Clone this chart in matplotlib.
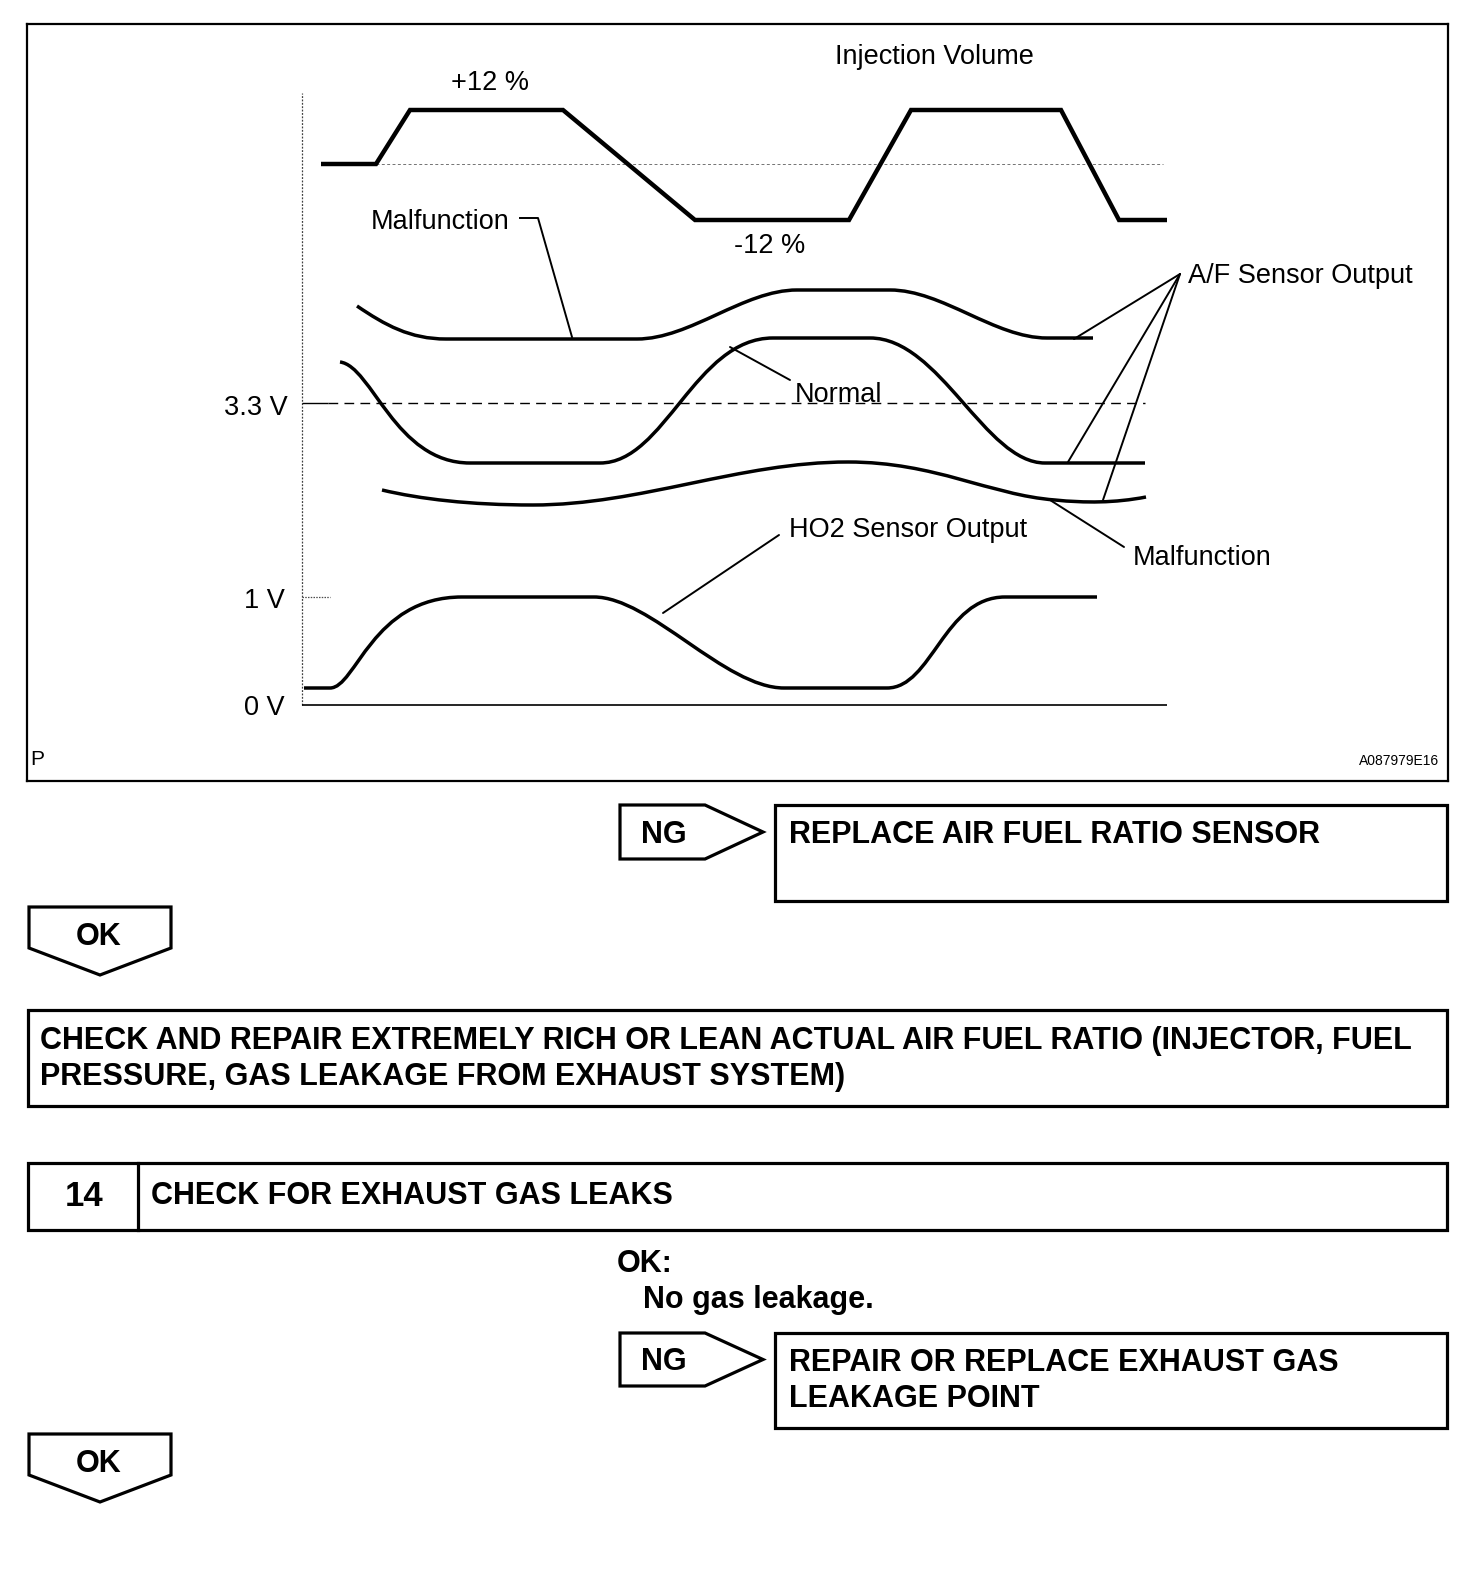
import numpy as np
import matplotlib.pyplot as plt
from matplotlib.path import Path
from matplotlib.patches import PathPatch, Polygon, Rectangle

plt.rcParams['font.family'] = ['Liberation Sans', 'DejaVu Sans']

# --- waveform data: time (from the axis) and level (above 0 V), picture units ---
inj_t = [19, 74, 108, 261, 393, 547, 609, 759, 817, 865]
inj_v = [541, 541, 595, 595, 485, 485, 595, 595, 485, 485]
inj_mid = 541

# A/F sensor, malfunction (upper), normal, malfunction (lower); HO2 sensor
# points are bezier vertices, codes: M move, L line, C cubic control/end
af_mal_up_t = [55, 83, 108, 144, 335, 388, 442, 495, 588, 640, 693, 745, 791]
af_mal_up_v = [399, 380, 366, 366, 366, 366, 415, 415, 415, 415, 367, 367, 367]
af_mal_up_c = "MCCCLCCCLCCCL"

af_norm_t = [38, 70, 93, 168, 298, 363, 393, 471, 568, 638, 683, 743, 843]
af_norm_v = [343, 339, 242, 242, 242, 242, 367, 367, 367, 367, 242, 242, 242]
af_norm_c = "MCCCLCCCLCCCL"

af_mal_lo_t = [80, 118, 168, 231, 338, 438, 546, 633, 688, 753, 783, 813, 844]
af_mal_lo_v = [215, 206, 200, 200, 200, 243, 243, 243, 210, 205, 202, 202, 208]
af_mal_lo_c = "MCCCCCCCCCCCC"

ho2_t = [2, 28, 54, 70, 160, 292, 348, 423, 482, 585, 630, 642, 703, 795]
ho2_v = [17, 17, 17, 108, 108, 108, 108, 17, 17, 17, 17, 108, 108, 108]
ho2_c = "MLCCCLCCCLCCCL"

tick_levels = [302, 108, 0]
tick_labels = ['3.3 V', '1 V', '0 V']

ng_texts = [["REPLACE AIR FUEL RATIO SENSOR"],
            ["REPAIR OR REPLACE EXHAUST GAS", "LEAKAGE POINT"]]
step_no = "14"
step_title = "CHECK FOR EXHAUST GAS LEAKS"
check_text = ["CHECK AND REPAIR EXTREMELY RICH OR LEAN ACTUAL AIR FUEL RATIO (INJECTOR, FUEL",
              "PRESSURE, GAS LEAKAGE FROM EXHAUST SYSTEM)"]
ok_spec = ["OK:", "No gas leakage."]

CODE = {'M': Path.MOVETO, 'L': Path.LINETO, 'C': Path.CURVE4}


def curve(ax, t, v, codes, lw=2.5):
    path = Path(np.column_stack([t, v]), [CODE[c] for c in codes])
    ax.add_patch(PathPatch(path, fill=False, lw=lw, ec='black', capstyle='butt'))


def leader(ax, start, end):
    ax.annotate('', xy=end, xytext=start, annotation_clip=False,
                arrowprops=dict(arrowstyle='-', lw=1.4, color='black',
                                shrinkA=0, shrinkB=0))


W, H = 1472, 1580
fig = plt.figure(figsize=(W / 100, H / 100), dpi=100)

# ---------------- flow chart part (pixel coordinates) ----------------
fl = fig.add_axes([0, 0, 1, 1])
fl.set_xlim(0, W)
fl.set_ylim(H, 0)
fl.axis('off')

BOLD = dict(fontsize=22, fontweight='bold', color='black', va='baseline')
BLW = 2.3
LINE = 36  # line pitch of the box texts


def lines(x, y, rows):
    for i, row in enumerate(rows):
        fl.text(x, y + i * LINE, row, ha='left', **BOLD)


def ng_arrow(top, bottom):
    mid = (top + bottom) / 2
    fl.add_patch(Polygon([(620, top), (705, top), (763, mid), (705, bottom), (620, bottom)],
                         closed=True, fill=False, lw=BLW, joinstyle='miter'))
    fl.text(664, mid + 11, "NG", ha='center', **BOLD)


def ok_arrow(top):
    fl.add_patch(Polygon([(29, top), (171, top), (171, top + 41), (100, top + 68), (29, top + 41)],
                         closed=True, fill=False, lw=BLW, joinstyle='miter'))
    fl.text(99, top + 38, "OK", ha='center', **BOLD)


ng_arrow(805, 859)
fl.add_patch(Rectangle((775, 805), 672, 96, fill=False, lw=BLW))
lines(789, 843, ng_texts[0])

ok_arrow(907)

fl.add_patch(Rectangle((28, 1010), 1419, 96, fill=False, lw=BLW))
lines(40, 1049, check_text)

fl.add_patch(Rectangle((28, 1163), 1419, 67, fill=False, lw=BLW))
fl.plot([138, 138], [1163, 1230], color='black', lw=BLW)
fl.text(84, 1206, step_no, ha='center', fontsize=25, fontweight='bold', va='baseline')
fl.text(151, 1204, step_title, ha='left', **BOLD)

fl.text(617, 1272, ok_spec[0], ha='left', **BOLD)
fl.text(643, 1308, ok_spec[1], ha='left', **BOLD)

ng_arrow(1333, 1386)
fl.add_patch(Rectangle((775, 1333), 672, 95, fill=False, lw=BLW))
lines(789, 1371, ng_texts[1])

ok_arrow(1434)

# ---------------- waveform chart ----------------
box_l, box_t, box_r, box_b = 27, 24, 1448, 781
x0, y0 = 302, 705
ax = fig.add_axes([box_l / W, 1 - box_b / H, (box_r - box_l) / W, (box_b - box_t) / H])
ax.set_xlim(box_l - x0, box_r - x0)
ax.set_ylim(y0 - box_b, y0 - box_t)
ax.set_xticks([])
ax.set_yticks([])
for s in ax.spines.values():
    s.set_linewidth(1.6)

# axis lines and reference levels
ax.vlines(0, 0, 612, color='0.25', lw=0.9, linestyles=(0, (1.5, 1.2)))
ax.hlines(0, 0, 865, color='black', lw=1.2)
ax.hlines(tick_levels[0], 0, 26, color='black', lw=1.0)
ax.hlines(tick_levels[0], 26, 843, color='black', lw=1.0, linestyles=(0, (7, 4.5)))
ax.hlines(tick_levels[1], 0, 28, color='0.3', lw=0.9, linestyles=(0, (1.2, 1)))
ax.hlines(inj_mid, 74, 861, color='0.45', lw=0.7, linestyles=(0, (3, 2.5)))

tick_x = [-14, -17, -17]
tick_base = [-12, -11, -10]
for lv, lab, tx, tb in zip(tick_levels, tick_labels, tick_x, tick_base):
    ax.text(tx, lv + tb, lab, ha='right', va='baseline', fontsize=19.5)

# waveforms
ax.plot(inj_t, inj_v, color='black', lw=3.2, solid_joinstyle='miter', solid_capstyle='butt')
curve(ax, af_mal_up_t, af_mal_up_v, af_mal_up_c)
curve(ax, af_norm_t, af_norm_v, af_norm_c)
curve(ax, af_mal_lo_t, af_mal_lo_v, af_mal_lo_c)
curve(ax, ho2_t, ho2_v, ho2_c)

# labels
LAB = dict(fontsize=19.5, va='baseline', color='black')
ax.text(632, 641, "Injection Volume", ha='center', **LAB)
ax.text(188, 615, "+12 %", ha='center', **LAB)
ax.text(468, 452, "-12 %", ha='center', **LAB)
ax.text(69, 476, "Malfunction", ha='left', **LAB)
ax.text(493, 303, "Normal", ha='left', **LAB)
ax.text(886, 422, "A/F Sensor Output", ha='left', **LAB)
ax.text(831, 140, "Malfunction", ha='left', **LAB)
ax.text(487, 168, "HO2 Sensor Output", ha='left', **LAB)
ax.text(-272, -60, "P", ha='left', va='baseline', fontsize=15)
ax.text(1137, -60, "A087979E16", ha='right', va='baseline', fontsize=10)

# leader lines
ax.plot([218, 236, 270], [487, 487, 368], color='black', lw=1.4)
leader(ax, (428, 358), (488, 325))
for tgt in [(772, 366), (766, 243), (801, 205)]:
    leader(ax, (878, 431), tgt)
leader(ax, (748, 205), (822, 158))
leader(ax, (477, 170), (361, 92))

fig.savefig('out.png', dpi=100)
